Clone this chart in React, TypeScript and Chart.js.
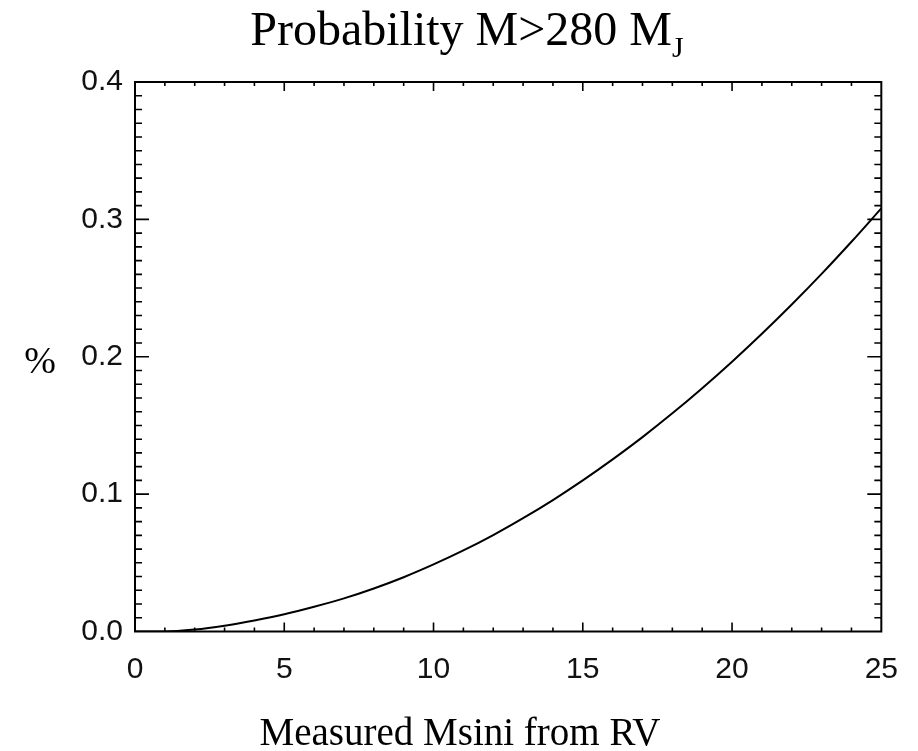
import { useEffect, useRef } from 'react';
import { Chart, registerables } from 'chart.js';

Chart.register(...registerables);

const msini = [0, 1, 2, 3, 4, 5, 6, 7, 8, 9, 10, 11, 12, 13, 14, 15, 16, 17, 18, 19, 20, 21, 22, 23, 24, 25];
const probability = [
  0.0, 0.0, 0.0014, 0.0042, 0.008, 0.0125, 0.018, 0.0241, 0.0313, 0.0395, 0.0488,
  0.059, 0.0702, 0.0825, 0.0957, 0.11, 0.1253, 0.1415, 0.1588, 0.1771, 0.1964,
  0.2167, 0.238, 0.2603, 0.2837, 0.308,
];
const xTickValues = [0, 5, 10, 15, 20, 25];
const yTickValues = [0.0, 0.1, 0.2, 0.3, 0.4];
const titleMain = 'Probability M>280 M';
const titleSub = 'J';
const xTitle = 'Measured Msini from RV';
const yTitle = '%';

const SERIF = '"Liberation Serif", "DejaVu Serif", serif';
const SANS = '"Liberation Sans", Arial, sans-serif';

const framePlugin = {
  id: 'idlFrame',
  afterDraw(chart: any) {
    const { ctx, chartArea, scales } = chart;
    const { left, right, top, bottom } = chartArea;
    const xs = scales.x;
    const ys = scales.y;
    ctx.save();
    ctx.strokeStyle = '#000';
    ctx.lineWidth = 2;
    ctx.strokeRect(left, top, right - left, bottom - top);

    ctx.lineWidth = 1.6;
    ctx.beginPath();
    for (let i = 1; i < 25; i++) {
      const px = xs.getPixelForValue(i);
      const len = i % 5 === 0 ? 9 : 4;
      ctx.moveTo(px, bottom);
      ctx.lineTo(px, bottom - len);
      ctx.moveTo(px, top);
      ctx.lineTo(px, top + len);
    }
    for (let j = 1; j < 40; j++) {
      const py = ys.getPixelForValue(j / 100);
      const len = j % 10 === 0 ? 14 : 7;
      ctx.moveTo(left, py);
      ctx.lineTo(left + len, py);
      ctx.moveTo(right, py);
      ctx.lineTo(right - len, py);
    }
    ctx.stroke();

    ctx.fillStyle = '#000';
    ctx.textBaseline = 'alphabetic';
    ctx.textAlign = 'left';
    const mainFont = `48px ${SERIF}`;
    const subFont = `30px ${SERIF}`;
    ctx.font = mainFont;
    const w1 = ctx.measureText(titleMain).width;
    ctx.font = subFont;
    const w2 = ctx.measureText(titleSub).width;
    const startX = 467 - (w1 + w2) / 2;
    ctx.font = mainFont;
    ctx.fillText(titleMain, startX, 45);
    ctx.font = subFont;
    ctx.fillText(titleSub, startX + w1, 57);

    ctx.font = `39px ${SERIF}`;
    ctx.textAlign = 'center';
    ctx.fillText(xTitle, 460, 745);

    ctx.font = `38px ${SERIF}`;
    ctx.textBaseline = 'middle';
    ctx.fillText(yTitle, 40, 363);
    ctx.restore();
  },
};

export default function App() {
  const canvasRef = useRef<HTMLCanvasElement | null>(null);

  useEffect(() => {
    document.body.style.margin = '0';
    const canvas = canvasRef.current;
    if (!canvas) return;
    const chart = new Chart(canvas, {
      type: 'line',
      data: {
        datasets: [
          {
            data: msini.map((x, i) => ({ x, y: probability[i] })),
            borderColor: '#000',
            borderWidth: 2,
            pointRadius: 0,
            cubicInterpolationMode: 'monotone',
            fill: false,
          },
        ],
      },
      options: {
        responsive: false,
        animation: false,
        events: [],
        layout: { padding: { top: 82, right: 33, bottom: 0, left: 0 } },
        plugins: { legend: { display: false }, title: { display: false }, tooltip: { enabled: false } },
        scales: {
          x: {
            type: 'linear',
            min: 0,
            max: 25,
            grid: { display: false, drawTicks: false },
            border: { display: false },
            afterBuildTicks: (scale: any) => {
              scale.ticks = xTickValues.map((v) => ({ value: v }));
            },
            afterFit: (scale: any) => {
              scale.height = 119.5;
            },
            ticks: {
              padding: 20,
              maxRotation: 0,
              autoSkip: false,
              color: '#111',
              font: { family: SANS, size: 30 },
              callback: (v: any) => String(v),
            },
          },
          y: {
            type: 'linear',
            min: 0,
            max: 0.4,
            grid: { display: false, drawTicks: false },
            border: { display: false },
            afterBuildTicks: (scale: any) => {
              scale.ticks = yTickValues.map((v) => ({ value: v }));
            },
            afterFit: (scale: any) => {
              scale.width = 135;
            },
            ticks: {
              padding: 12,
              autoSkip: false,
              color: '#111',
              font: { family: SANS, size: 30 },
              callback: (v: any) => Number(v).toFixed(1),
            },
          },
        },
      },
      plugins: [framePlugin],
    } as any);
    return () => chart.destroy();
  }, []);

  return (
    <div style={{ width: 918, height: 751 }}>
      <canvas ref={canvasRef} width={918} height={751} style={{ display: 'block' }} />
    </div>
  );
}
